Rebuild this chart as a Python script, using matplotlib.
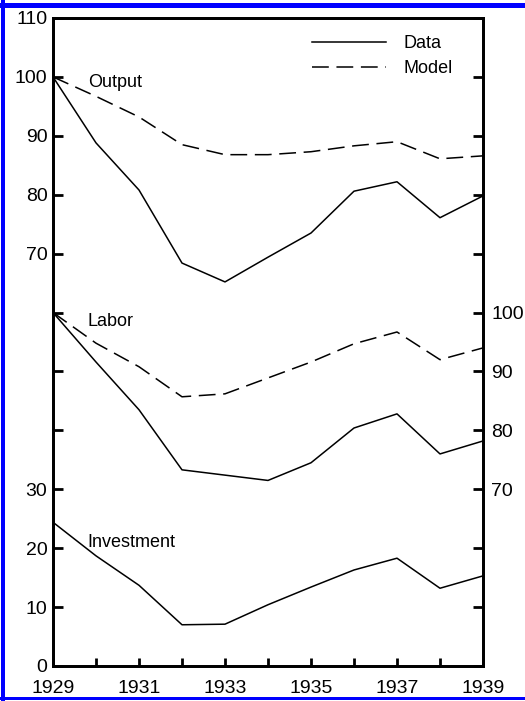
import matplotlib.pyplot as plt
from matplotlib.patches import Rectangle

plt.rcParams['font.family'] = ['Liberation Sans', 'DejaVu Sans']

years = list(range(1929, 1940))
output_data = [100, 88.8, 80.8, 68.4, 65.2, 69.4, 73.5, 80.6, 82.2, 76.1, 79.8]
output_model = [100, 96.7, 93.2, 88.5, 86.8, 86.8, 87.3, 88.3, 89.0, 86.1, 86.6]
labor_data = [100, 91.6, 83.5, 73.3, 72.4, 71.5, 74.5, 80.4, 82.8, 76.0, 78.2]
labor_model = [100, 94.8, 90.8, 85.7, 86.2, 88.9, 91.6, 94.7, 96.7, 92.0, 94.0]
investment = [24.4, 18.7, 13.7, 7.0, 7.1, 10.4, 13.4, 16.3, 18.3, 13.2, 15.3]

left_ticks = list(range(0, 111, 10))
left_labels = ['' if v in (40, 50, 60) else str(v) for v in left_ticks]
right_ticks = list(range(40, 151, 10))
right_labels = [str(v) if 70 <= v <= 100 else '' for v in right_ticks]
year_labels = [str(y) if y % 2 == 1 else '' for y in years]

fig = plt.figure(figsize=(5.25, 7.01), dpi=100)
ax = fig.add_axes([53 / 525, 1 - 666 / 701, 430 / 525, 648 / 701])
ax2 = ax.twinx()

lw = 1.1
dash = (0, (11, 5))
ax.plot(years, output_data, color='black', lw=lw, label='Data')
ax.plot(years, output_model, color='black', lw=lw, linestyle=dash, label='Model')
ax.plot(years, investment, color='black', lw=lw)
ax2.plot(years, labor_data, color='black', lw=lw)
ax2.plot(years, labor_model, color='black', lw=lw, linestyle=dash)

ax.set_xlim(1929, 1939)
ax.set_ylim(0, 110)
ax2.set_ylim(40, 150)

ax.set_xticks(years)
ax.set_xticklabels(year_labels)
ax.set_yticks(left_ticks)
ax.set_yticklabels(left_labels)
ax2.set_yticks(right_ticks)
ax2.set_yticklabels(right_labels)

ax.tick_params(axis='x', direction='in', length=6, width=2, labelsize=14, pad=10)
ax.tick_params(axis='y', direction='in', length=7, width=2, labelsize=14, pad=4)
ax2.tick_params(axis='y', direction='in', length=7, width=2, labelsize=14, pad=6)
for a in (ax, ax2):
    for s in a.spines.values():
        s.set_linewidth(2)

ax.text(1929.81, 99.1, 'Output', fontsize=13, va='center', ha='left')
ax.text(1929.81, 58.4, 'Labor', fontsize=13, va='center', ha='left')
ax.text(1929.79, 20.9, 'Investment', fontsize=13, va='center', ha='left')

ax.legend(loc='upper left', bbox_to_anchor=(0.602, 0.974), frameon=False,
          fontsize=13, handlelength=4.1, handletextpad=1.0, labelspacing=0.45,
          borderpad=0, borderaxespad=0)

# blue frame round the figure
fig.add_artist(Rectangle((1 / 525, 0), 4 / 525, 1, transform=fig.transFigure, color='#0000ff', lw=0))
fig.add_artist(Rectangle((0, 1 - 8 / 701), 1, 5 / 701, transform=fig.transFigure, color='#0000ff', lw=0))
fig.add_artist(Rectangle((0, 1 / 701), 1, 3 / 701, transform=fig.transFigure, color='#0000ff', lw=0))

fig.savefig('out.png', dpi=100)
